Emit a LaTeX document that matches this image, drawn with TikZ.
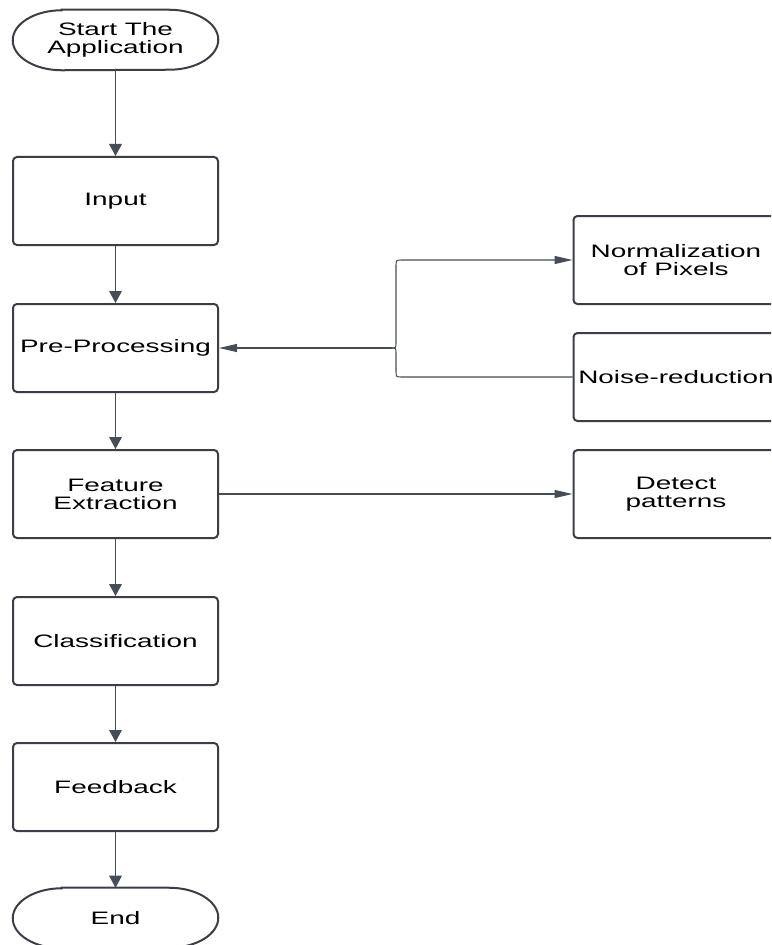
\documentclass[tikz,border=0pt]{standalone}
\usepackage{fontspec}
\setmainfont{Liberation Sans}
\usepackage{graphicx}
\usetikzlibrary{arrows.meta}
\definecolor{lc}{HTML}{474D57}
\definecolor{bc}{HTML}{3A3F47}
\newcommand\wide[1]{\scalebox{1.55}[1]{#1}}
\tikzset{
  box/.style={draw=bc, line width=1.5pt, rounded corners=3pt, minimum width=153.75pt, minimum height=66pt, inner sep=0pt, align=center, font=\fontsize{13.5}{13.5}\selectfont, text=black},
  term/.style={minimum width=153.75pt, minimum height=45pt, inner sep=0pt, align=center, font=\fontsize{13.5}{13.5}\selectfont, text=black},
  termline/.style={draw=bc, line width=1.5pt},
  conn/.style={draw=lc, line width=0.9pt},
  varr/.style={conn, -{Triangle[length=9pt,width=9.5pt]}},
  harr/.style={draw=lc, line width=0.8pt, -{Triangle[length=13.5pt,width=6pt]}},
  hline/.style={draw=lc, line width=0.8pt},
}
\begin{document}
\begin{tikzpicture}[x=0.75pt,y=-0.75pt]
\useasboundingbox (0,0) rectangle (771,945);
\clip (0,0) rectangle (771,945);
\fill[white] (0,0) rectangle (771,945);

% terminators
\node[term] (start) at (115.5,40) {\wide{Start The}\\\wide{Application}};
\node[term] (end) at (115.5,918) {\wide{End}};
\foreach \n in {start,end}{
  \draw[termline] ([xshift=36.75pt]\n.north west) -- ([xshift=-36.75pt]\n.north east)
    arc[start angle=90, end angle=-90, x radius=36.75pt, y radius=22.5pt]
    -- ([xshift=36.75pt]\n.south west)
    arc[start angle=270, end angle=90, x radius=36.75pt, y radius=22.5pt] -- cycle;
}

% main column
\node[box] (input) at (115.5,201) {\wide{Input}};
\node[box] (pp) at (115.5,348) {\wide{Pre-Processing}};
\node[box] (fe) at (115.5,494) {\wide{Feature}\\\wide{Extraction}};
\node[box] (cl) at (115.5,641) {\wide{Classification}};
\node[box] (fb) at (115.5,787) {\wide{Feedback}};

% right column
\node[box] (norm) at (676,260) {\wide{Normalization}\\\wide{of Pixels}};
\node[box] (noise) at (676,377) {\wide{Noise-reduction}};
\node[box] (det) at (676,494) {\wide{Detect}\\\wide{patterns}};

% vertical arrows
\draw[varr] (start.south) -- (input.north);
\draw[varr] (input.south) -- (pp.north);
\draw[varr] (pp.south) -- (fe.north);
\draw[varr] (fe.south) -- (cl.north);
\draw[varr] (cl.south) -- (fb.north);
\draw[varr] (fb.south) -- (end.north);

% brace
\coordinate (br) at (392,348);
\draw[harr] (br) -- (pp.east);
\draw[harr] (br) .. controls (396,348) .. (396,342) -- (396,266) .. controls (396,260) .. (402,260) -- (norm.west);
\draw[hline] (br) .. controls (396,348) .. (396,354) -- (396,371) .. controls (396,377) .. (402,377) -- (noise.west);

% feature -> detect
\draw[harr] (fe.east) -- (det.west);
\end{tikzpicture}
\end{document}
